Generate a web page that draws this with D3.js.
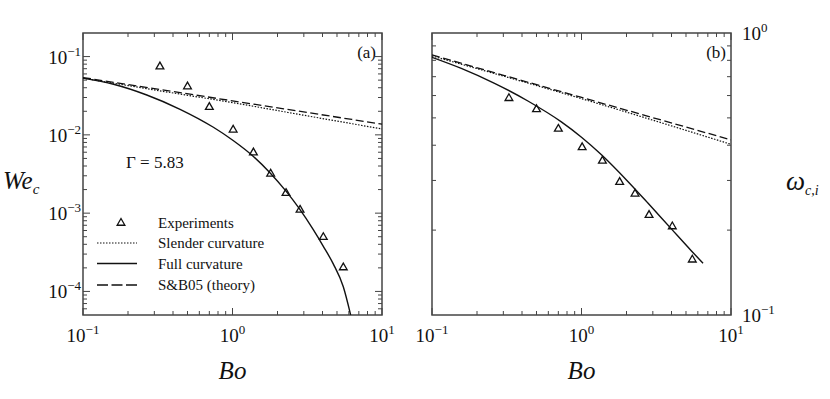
<!DOCTYPE html>
<html>
<head>
<meta charset="utf-8">
<script src="https://cdn.jsdelivr.net/npm/d3@7"></script>
<style>
body { margin: 0; background: #fff; }
text { font-family: "Liberation Serif", "DejaVu Serif", serif; fill: #111; }
</style>
</head>
<body>
<div id="chart"></div>
<script>
// experiments (same Bo values in both panels)
var boExp = [0.327, 0.50, 0.70, 1.01, 1.38, 1.80, 2.28, 2.83, 4.05, 5.51];
var weExp = [0.0745, 0.0414, 0.0226, 0.0116, 0.00594, 0.00318, 0.0018, 0.0011, 0.000493, 0.000202];
var omExp = [0.587, 0.536, 0.457, 0.393, 0.352, 0.296, 0.269, 0.226, 0.206, 0.157];

// panel (a): We_c curves
var boFullA = [0.1, 0.16, 0.267, 0.446, 0.745, 1.01, 1.38, 1.78, 2.28, 2.80, 3.47, 4.05, 4.72, 5.51, 6.17];
var weFull = [0.053, 0.0443, 0.0323, 0.0212, 0.0125, 0.00848, 0.0053, 0.00329, 0.00191, 0.00114, 0.000615, 0.000377, 0.000225, 0.000115, 0.0000502];
var boSlenderA = [0.1, 0.3, 1, 3, 10];
var weSlender = [0.053, 0.0375, 0.0258, 0.0178, 0.0119];
var boSB05A = [0.1, 1, 10];
var weSB05 = [0.054, 0.0272, 0.0137];

// panel (b): omega_{c,i} curves
var boFullB = [0.1, 0.157, 0.262, 0.438, 0.733, 1.0, 1.36, 2.05, 2.79, 3.99, 5.42, 6.50];
var omFull = [0.820, 0.749, 0.663, 0.574, 0.484, 0.427, 0.370, 0.297, 0.249, 0.202, 0.169, 0.1526];
var boSlenderB = [0.1, 1, 10];
var omSlender = [0.829, 0.585, 0.403];
var boSB05B = [0.1, 1, 10];
var omSB05 = [0.836, 0.591, 0.418];

var xMajor = [0.1, 1, 10];
var xMajorExp = ["−1", "0", "1"];
var yMajorA = [1e-4, 1e-3, 1e-2, 1e-1];
var yMajorAExp = ["−4", "−3", "−2", "−1"];
var yMajorB = [1, 0.1];
var yMajorBExp = ["0", "−1"];

var legendLabels = ["Experiments", "Slender curvature", "Full curvature", "S&B05 (theory)"];

var width = 830, height = 399;
var svg = d3.select("#chart").append("svg")
    .attr("width", width)
    .attr("height", height);

svg.append("rect").attr("width", width).attr("height", height).attr("fill", "#fff");

var frameColor = "#444";

function minors(lo, hi) {
    var out = [];
    for (var e = Math.floor(Math.log10(lo)); e <= Math.ceil(Math.log10(hi)); e++) {
        for (var k = 2; k <= 9; k++) {
            var v = k * Math.pow(10, e);
            if (v > lo * 1.0001 && v < hi * 0.9999) out.push(v);
        }
    }
    return out;
}

function zip(a, b) { return a.map(function (d, i) { return [d, b[i]]; }); }

function panel(id, left, right, top, bottom, yDomain) {
    var x = d3.scaleLog().domain([0.1, 10]).range([left, right]);
    var y = d3.scaleLog().domain(yDomain).range([bottom, top]);
    var g = svg.append("g").attr("class", "panel-" + id);

    g.append("clipPath").attr("id", "clip-" + id)
        .append("rect").attr("x", left).attr("y", top)
        .attr("width", right - left).attr("height", bottom - top);

    // ticks, inward, on all four sides
    var xm = minors(0.1, 10), ym = minors(yDomain[0], yDomain[1]);
    var tk = g.append("g").attr("stroke", frameColor).attr("stroke-width", 1);
    function xt(vals, len) {
        vals.forEach(function (v) {
            tk.append("line").attr("x1", x(v)).attr("x2", x(v)).attr("y1", bottom).attr("y2", bottom - len);
            tk.append("line").attr("x1", x(v)).attr("x2", x(v)).attr("y1", top).attr("y2", top + len);
        });
    }
    function yt(vals, len) {
        vals.forEach(function (v) {
            tk.append("line").attr("y1", y(v)).attr("y2", y(v)).attr("x1", left).attr("x2", left + len);
            tk.append("line").attr("y1", y(v)).attr("y2", y(v)).attr("x1", right).attr("x2", right - len);
        });
    }
    xt(xMajor, 7); xt(xm, 4);
    yt(ym, 4);
    yt(yMajorA.filter(function (v) { return v > yDomain[0] && v < yDomain[1]; }), 7);

    g.append("rect")
        .attr("x", left).attr("y", top)
        .attr("width", right - left).attr("height", bottom - top)
        .attr("fill", "none").attr("stroke", frameColor).attr("stroke-width", 1.5);

    // x tick labels
    xMajor.forEach(function (v, i) {
        var t = g.append("text").attr("x", x(v)).attr("y", 342)
            .attr("text-anchor", "middle").style("font-size", "19px");
        t.append("tspan").text("10");
        t.append("tspan").attr("dy", -8).style("font-size", "13px").text(xMajorExp[i]);
    });

    g.append("text").attr("x", x(1)).attr("y", 379)
        .attr("text-anchor", "middle")
        .style("font-size", "25px").style("font-style", "italic").text("Bo");

    return { g: g, x: x, y: y };
}

function drawSeries(p, id, bo, val, dash, w) {
    var line = d3.line().x(function (d) { return p.x(d[0]); }).y(function (d) { return p.y(d[1]); })
        .curve(d3.curveMonotoneX);
    p.g.append("path")
        .datum(zip(bo, val))
        .attr("clip-path", "url(#clip-" + id + ")")
        .attr("d", line)
        .attr("fill", "none")
        .attr("stroke", "#111")
        .attr("stroke-width", w)
        .attr("stroke-dasharray", dash);
}

var tri = d3.symbol().type(d3.symbolTriangle).size(26);

function drawPoints(p, bo, val) {
    p.g.append("g").selectAll("path")
        .data(zip(bo, val))
        .enter().append("path")
        .attr("d", tri)
        .attr("transform", function (d) { return "translate(" + p.x(d[0]) + "," + p.y(d[1]) + ")"; })
        .attr("fill", "none")
        .attr("stroke", "#111")
        .attr("stroke-width", 1.3);
}

// ---- panel (a)
var pa = panel("a", 83, 382, 33, 315, [5e-5, 0.2]);
drawSeries(pa, "a", boSlenderA, weSlender, "1.5,1.5", 1.2);
drawSeries(pa, "a", boSB05A, weSB05, "8,3.5", 1.3);
drawSeries(pa, "a", boFullA, weFull, null, 1.4);
drawPoints(pa, boExp, weExp);

yMajorA.forEach(function (v, i) {
    var t = pa.g.append("text").attr("x", 81).attr("y", pa.y(v) + 7)
        .attr("text-anchor", "end").style("font-size", "19px");
    t.append("tspan").text("10");
    t.append("tspan").attr("dy", -8).style("font-size", "13px").text(yMajorAExp[i]);
});

var wl = pa.g.append("text").attr("x", 3).attr("y", 189).style("font-size", "25px").style("font-style", "italic");
wl.append("tspan").text("We");
wl.append("tspan").attr("dy", 5).style("font-size", "15px").text("c");

pa.g.append("text").attr("x", 126).attr("y", 168).style("font-size", "17px").text("Γ = 5.83");
pa.g.append("text").attr("x", 376).attr("y", 58).attr("text-anchor", "end").style("font-size", "17px").text("(a)");

// legend
var lg = pa.g.append("g");
var rowY = [223, 243, 263.5, 285];
lg.append("path").attr("d", tri).attr("transform", "translate(121," + rowY[0] + ")")
    .attr("fill", "none").attr("stroke", "#111").attr("stroke-width", 1.3);
var legDash = ["1.5,1.5", null, "11,3.5"];
[1, 2, 3].forEach(function (r, i) {
    lg.append("line").attr("x1", 97).attr("x2", 137).attr("y1", rowY[r]).attr("y2", rowY[r])
        .attr("stroke", "#111").attr("stroke-width", i == 0 ? 1.2 : 1.4)
        .attr("stroke-dasharray", legDash[i]);
});
legendLabels.forEach(function (s, i) {
    lg.append("text").attr("x", 158).attr("y", rowY[i] + 5).style("font-size", "15px").text(s);
});

// ---- panel (b)
var pb = panel("b", 432, 731, 33, 315, [0.1, 1]);
drawSeries(pb, "b", boSlenderB, omSlender, "1.5,1.5", 1.2);
drawSeries(pb, "b", boSB05B, omSB05, "8,3.5", 1.3);
drawSeries(pb, "b", boFullB, omFull, null, 1.4);
drawPoints(pb, boExp, omExp);

yMajorB.forEach(function (v, i) {
    var t = pb.g.append("text").attr("x", 742).attr("y", pb.y(v) + 7).style("font-size", "19px");
    t.append("tspan").text("10");
    t.append("tspan").attr("dy", -8).style("font-size", "13px").text(yMajorBExp[i]);
});

var ol = pb.g.append("text").attr("x", 786).attr("y", 190).style("font-size", "27px").style("font-style", "italic");
ol.append("tspan").text("ω");
ol.append("tspan").attr("dy", 5).style("font-size", "14px").text("c,i");

pb.g.append("text").attr("x", 726).attr("y", 58).attr("text-anchor", "end").style("font-size", "17px").text("(b)");
</script>
</body>
</html>
